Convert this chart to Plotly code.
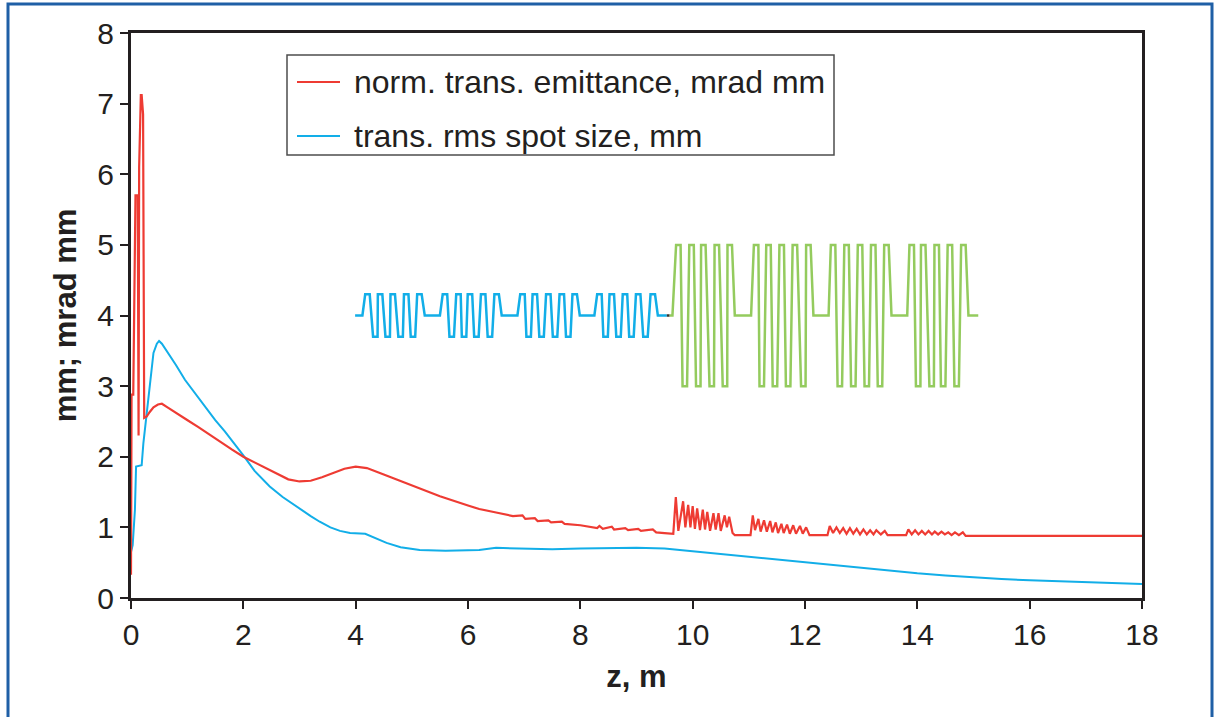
import plotly.graph_objects as go

# ---------------- data ----------------
# normalised transverse emittance (mrad mm)
emit_z = [0.00, 0.01, 0.04, 0.06, 0.08, 0.12, 0.13, 0.135, 0.145, 0.175, 0.19, 0.205, 0.215, 0.235,
          0.28, 0.33, 0.40, 0.48, 0.55, 0.65, 0.80, 1.00, 1.20, 1.40, 1.60, 1.80, 2.00, 2.20, 2.40,
          2.60, 2.80, 3.00, 3.20, 3.40, 3.60, 3.80, 4.00, 4.20, 4.50, 4.80, 5.10, 5.50, 6.00, 6.20,
          6.50, 6.80, 6.97, 7.02, 7.19, 7.24, 7.43, 7.48, 7.67, 7.72, 8.00, 8.30, 8.34, 8.40, 8.56,
          8.60, 8.80, 8.85, 9.03, 9.08, 9.29, 9.35, 9.50, 9.655,
          9.70, 9.745, 9.83, 9.87, 9.92, 9.96, 10.00, 10.04, 10.08, 10.13, 10.18, 10.22, 10.26, 10.31,
          10.37, 10.41, 10.46, 10.50, 10.57, 10.61, 10.65, 10.71, 10.75,
          11.03, 11.07, 11.11, 11.17, 11.21, 11.27, 11.32, 11.38, 11.42, 11.48, 11.52, 11.58, 11.62,
          11.68, 11.73, 11.79, 11.84, 11.91, 11.96, 12.02, 12.08,
          12.40, 12.44, 12.50, 12.56, 12.62, 12.68, 12.74, 12.80, 12.86, 12.92, 12.98, 13.04, 13.10,
          13.16, 13.22, 13.27, 13.35, 13.42, 13.47,
          13.80, 13.84, 13.90, 13.96, 14.02, 14.08, 14.14, 14.20, 14.26, 14.31, 14.37, 14.43, 14.49,
          14.55, 14.61, 14.67, 14.74, 14.81, 14.86, 18.00]
emit_v = [0.33, 2.88, 2.88, 4.30, 5.70, 5.70, 2.30, 2.30, 6.10, 7.12, 7.12, 6.90, 6.85, 2.55,
          2.57, 2.63, 2.70, 2.74, 2.75, 2.70, 2.62, 2.52, 2.42, 2.31, 2.20, 2.10, 2.00, 1.92, 1.83,
          1.75, 1.68, 1.65, 1.66, 1.71, 1.77, 1.83, 1.86, 1.84, 1.75, 1.66, 1.57, 1.44, 1.31, 1.26,
          1.21, 1.16, 1.17, 1.12, 1.13, 1.09, 1.10, 1.07, 1.08, 1.05, 1.03, 0.99, 1.02, 0.98, 1.01,
          0.97, 0.99, 0.96, 0.98, 0.95, 0.97, 0.93, 0.92, 0.91,
          1.43, 0.95, 1.37, 1.00, 1.32, 1.00, 1.30, 0.98, 1.27, 0.96, 1.25, 0.97, 1.22, 0.95,
          1.20, 0.97, 1.20, 0.95, 1.17, 1.00, 1.15, 0.92, 0.89,
          0.89, 1.17, 0.96, 1.12, 0.94, 1.10, 0.94, 1.09, 0.93, 1.07, 0.92, 1.05, 0.92,
          1.04, 0.91, 1.03, 0.91, 1.02, 0.91, 1.00, 0.89,
          0.89, 1.02, 0.92, 1.00, 0.92, 0.99, 0.91, 0.99, 0.91, 0.98, 0.90, 0.97, 0.90,
          0.96, 0.90, 0.96, 0.90, 0.95, 0.89,
          0.89, 0.97, 0.90, 0.96, 0.90, 0.95, 0.90, 0.95, 0.90, 0.94, 0.90, 0.94, 0.90,
          0.93, 0.89, 0.93, 0.89, 0.93, 0.88, 0.88]

# transverse rms spot size (mm)
spot_z = [0.00, 0.03, 0.05, 0.07, 0.09, 0.19, 0.22, 0.28, 0.34, 0.40, 0.46, 0.50, 0.55, 0.66,
          0.80, 0.96, 1.15, 1.32, 1.50, 1.67, 1.91, 2.00, 2.20, 2.47, 2.70, 2.99, 3.20, 3.36,
          3.55, 3.72, 3.90, 4.17, 4.35, 4.55, 4.80, 5.14, 5.60, 6.20, 6.50, 7.00, 7.50, 8.00,
          8.50, 9.00, 9.50, 10.00, 10.50, 11.00, 11.50, 12.00, 12.50, 13.00, 13.50, 14.00,
          14.50, 15.00, 15.50, 16.00, 16.50, 17.00, 17.50, 18.00]
spot_v = [0.65, 0.75, 1.00, 1.25, 1.86, 1.88, 2.19, 2.62, 3.09, 3.47, 3.60, 3.64, 3.60, 3.47,
          3.30, 3.09, 2.89, 2.71, 2.52, 2.36, 2.12, 2.02, 1.80, 1.58, 1.43, 1.27, 1.16, 1.08,
          1.00, 0.95, 0.92, 0.91, 0.85, 0.78, 0.72, 0.68, 0.67, 0.68, 0.71, 0.70, 0.69, 0.70,
          0.71, 0.71, 0.70, 0.66, 0.62, 0.58, 0.55, 0.51, 0.46, 0.42, 0.39, 0.35,
          0.32, 0.29, 0.27, 0.25, 0.24, 0.22, 0.21, 0.20]

# lattice sketch (blue: first section, green: second section)
blue_base, blue_hi, blue_lo = 4.0, 4.3, 3.7
blue_start, blue_end = 3.99, 9.54
blue_on = [4.12, 5.50, 6.88, 8.25]
blue_off = [5.23, 6.60, 7.99, 9.38]
blue_peaks = [[4.21, 4.435, 4.66, 4.90, 5.135], [5.59, 5.83, 6.035, 6.27, 6.51],
              [6.97, 7.19, 7.43, 7.67, 7.90], [8.34, 8.56, 8.795, 9.03, 9.29]]
blue_troughs = [[4.35, 4.57, 4.80, 5.02], [5.71, 5.93, 6.15, 6.39],
                [7.08, 7.31, 7.55, 7.785], [8.45, 8.68, 8.91, 9.16]]

green_base, green_hi, green_lo = 4.0, 5.0, 3.0
green_start, green_end = 9.59, 15.085
green_on = [9.64, 11.04, 12.42, 13.82]
green_off = [10.75, 12.15, 13.54, 14.91]
green_peaks = [[9.745, 9.98, 10.19, 10.43, 10.66], [11.13, 11.35, 11.585, 11.82, 12.06],
               [12.50, 12.74, 12.98, 13.215, 13.45], [13.90, 14.105, 14.345, 14.58, 14.82]]
green_troughs = [[9.86, 10.10, 10.34, 10.575], [11.23, 11.465, 11.70, 11.97],
                 [12.62, 12.86, 13.10, 13.335], [14.015, 14.255, 14.46, 14.70]]

joint_z = [9.54, 9.59]
joint_v = [4.0, 4.0]

x_ticks = [0, 2, 4, 6, 8, 10, 12, 14, 16, 18]
y_ticks = [0, 1, 2, 3, 4, 5, 6, 7, 8]

legend_labels = ["norm. trans. emittance, mrad mm", "trans. rms spot size, mm"]

# ---------------- styling ----------------
RED = "#ee3b33"
BLUE = "#12aee8"
GREEN = "#94cb5e"
TXT = "#231f20"
FONT = "Liberation Sans, Arial, sans-serif"

W, H = 1217, 717
L, R, T, B = 131, 75, 33, 119
PW, PH = W - L - R, H - T - B


def px(xp):
    return (xp - L) / PW


def py(yp):
    return (H - B - yp) / PH


def lattice_path(start, end, base, hi, lo, on, off, peaks, troughs, hw):
    zs, vs = [start], [base]
    for g in range(len(on)):
        zs.append(on[g]); vs.append(base)
        pk, tr = peaks[g], troughs[g]
        for i in range(len(pk)):
            zs += [pk[i] - hw, pk[i] + hw]; vs += [hi, hi]
            if i < len(tr):
                zs += [tr[i] - hw, tr[i] + hw]; vs += [lo, lo]
        zs.append(off[g]); vs.append(base)
    zs.append(end); vs.append(base)
    return zs, vs


bz, bv = lattice_path(blue_start, blue_end, blue_base, blue_hi, blue_lo,
                      blue_on, blue_off, blue_peaks, blue_troughs, 0.04)
gz, gv = lattice_path(green_start, green_end, green_base, green_hi, green_lo,
                      green_on, green_off, green_peaks, green_troughs, 0.04)

fig = go.Figure()
fig.add_trace(go.Scatter(x=spot_z, y=spot_v, mode="lines", line=dict(color=BLUE, width=2),
                         name=legend_labels[1], showlegend=False))
fig.add_trace(go.Scatter(x=emit_z, y=emit_v, mode="lines", line=dict(color=RED, width=2.2),
                         name=legend_labels[0], showlegend=False))
fig.add_trace(go.Scatter(x=bz, y=bv, mode="lines", line=dict(color=BLUE, width=2.5),
                         showlegend=False, hoverinfo="skip"))
fig.add_trace(go.Scatter(x=joint_z, y=joint_v, mode="lines", line=dict(color="#333333", width=2.5),
                         showlegend=False, hoverinfo="skip"))
fig.add_trace(go.Scatter(x=gz, y=gv, mode="lines", line=dict(color=GREEN, width=2.5),
                         showlegend=False, hoverinfo="skip"))

axis_common = dict(showgrid=False, zeroline=False, showline=True, linecolor=TXT, linewidth=3,
                   mirror=True, ticks="outside", ticklen=8, tickwidth=2, tickcolor=TXT,
                   tickfont=dict(family=FONT, size=30, color=TXT))

fig.update_layout(
    width=W, height=H,
    margin=dict(l=L, r=R, t=T, b=B, pad=0),
    paper_bgcolor="white", plot_bgcolor="white",
    showlegend=False,
    xaxis=dict(range=[0, 18], tickvals=x_ticks, ticktext=[str(v) for v in x_ticks],
               title=dict(text="z, m", font=dict(family=FONT, size=31, color=TXT, weight="bold"),
                          standoff=16),
               **axis_common),
    yaxis=dict(range=[0, 8], tickvals=y_ticks, ticktext=[str(v) for v in y_ticks],
               title=dict(text="mm; mrad mm", font=dict(family=FONT, size=31, color=TXT, weight="bold"),
                          standoff=12),
               **axis_common),
    shapes=[
        # outer blue frame
        dict(type="rect", xref="paper", yref="paper", x0=px(8), x1=px(1212), y0=py(740), y1=py(4),
             line=dict(color="#1f5fa6", width=3), fillcolor="rgba(0,0,0,0)", layer="above"),
        # legend box
        dict(type="rect", xref="paper", yref="paper", x0=px(287), x1=px(834), y0=py(155), y1=py(55),
             line=dict(color="#4d4d4d", width=1.5), fillcolor="white", layer="above"),
        dict(type="line", xref="paper", yref="paper", x0=px(297), x1=px(340), y0=py(82), y1=py(82),
             line=dict(color=RED, width=2), layer="above"),
        dict(type="line", xref="paper", yref="paper", x0=px(297), x1=px(340), y0=py(136), y1=py(136),
             line=dict(color=BLUE, width=2), layer="above"),
    ],
    annotations=[
        dict(text=legend_labels[0], xref="paper", yref="paper", x=px(352), y=py(82),
             xanchor="left", yanchor="middle", showarrow=False,
             font=dict(family=FONT, size=32, color=TXT)),
        dict(text=legend_labels[1], xref="paper", yref="paper", x=px(352), y=py(136),
             xanchor="left", yanchor="middle", showarrow=False,
             font=dict(family=FONT, size=32, color=TXT)),
    ],
)

fig.write_html("out.html")
